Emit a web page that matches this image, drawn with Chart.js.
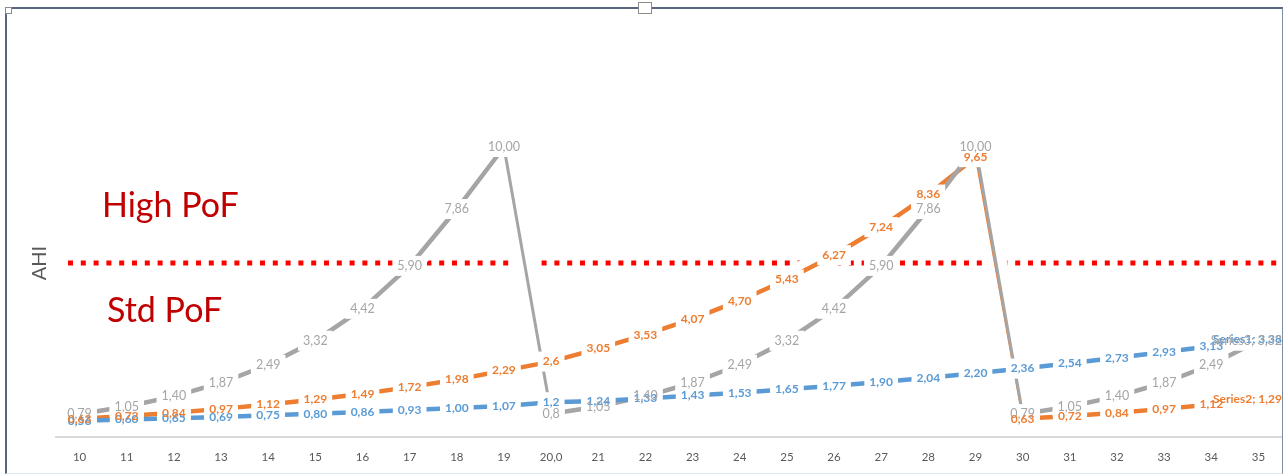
<!DOCTYPE html>
<html>
<head>
<meta charset="utf-8">
<title>AHI</title>
<script src="https://cdn.jsdelivr.net/npm/chart.js@4.4.1/dist/chart.umd.min.js"></script>
<style>
    body { margin: 0; background: #fff; }
    #wrap { position: relative; width: 1284px; height: 475px; overflow: hidden; }
    #frame { position: absolute; left: 5px; top: 7px; right: 1px; bottom: 1px;
             border-left: 2px solid #56677d; border-top: 2px solid #56677d;
             border-right: 1px solid #7d8ea3; border-bottom: 1px solid #dde6ec; pointer-events: none; }
    .handle { position: absolute; background: #fff; border: 1px solid #8c8c8c; pointer-events: none; }
</style>
</head>
<body>
<div id="wrap">
    <canvas id="ahiChart"></canvas>
    <div id="frame"></div>
    <div class="handle" style="left:5px;top:7px;width:5px;height:5px;"></div>
    <div class="handle" style="left:638px;top:2px;width:12px;height:10px;"></div>
</div>
<script>
const categories = ['10', '11', '12', '13', '14', '15', '16', '17', '18', '19', '20,0', '21', '22',
    '23', '24', '25', '26', '27', '28', '29', '30', '31', '32', '33', '34', '35'];
const seriesNames = ['Series1', 'Series2', 'Series3'];
const series1 = [0.56, 0.60, 0.65, 0.69, 0.75, 0.80, 0.86, 0.93, 1.00, 1.07, 1.2, 1.24, 1.33,
    1.43, 1.53, 1.65, 1.77, 1.90, 2.04, 2.20, 2.36, 2.54, 2.73, 2.93, 3.13, 3.38];
const series2 = [0.63, 0.72, 0.84, 0.97, 1.12, 1.29, 1.49, 1.72, 1.98, 2.29, 2.6, 3.05, 3.53,
    4.07, 4.70, 5.43, 6.27, 7.24, 8.36, 9.65, 0.63, 0.72, 0.84, 0.97, 1.12, 1.29];
const series3 = [0.79, 1.05, 1.40, 1.87, 2.49, 3.32, 4.42, 5.90, 7.86, 10.00, 0.8, 1.05, 1.40,
    1.87, 2.49, 3.32, 4.42, 5.90, 7.86, 10.00, 0.79, 1.05, 1.40, 1.87, 2.49, 3.32];
// number of decimals Excel shows per category (column 20 was typed with one)
const labelDecimals = [2, 2, 2, 2, 2, 2, 2, 2, 2, 2, 1, 2, 2, 2, 2, 2, 2, 2, 2, 2, 2, 2, 2, 2, 2, 2];
const threshold = [6];
const zoneLabels = ['High PoF', 'Std PoF'];
const axisTitle = 'AHI';

const FONT = 'Lato, "Open Sans", sans-serif';

// threshold dotted line, under the series
const thresholdLine = {
    id: 'thresholdLine',
    beforeDatasetsDraw(chart) {
        const {ctx, chartArea} = chart;
        const y = chart.scales.y.getPixelForValue(threshold[0]);
        ctx.save();
        ctx.strokeStyle = '#ff0000';
        ctx.lineWidth = 5;
        ctx.setLineDash([5, 7.8]);
        ctx.beginPath();
        ctx.moveTo(chartArea.left + 12, y);
        ctx.lineTo(chartArea.right + 2, y);
        ctx.stroke();
        ctx.restore();
    },
    afterDraw(chart) {
        const {ctx, chartArea} = chart;
        const y = chart.scales.y.getPixelForValue(threshold[0]);
        ctx.save();
        ctx.fillStyle = '#c00000';
        ctx.font = '34px ' + FONT;
        ctx.textBaseline = 'alphabetic';
        ctx.fillText(zoneLabels[0], chartArea.left + 46, y - 46);
        ctx.fillText(zoneLabels[1], chartArea.left + 51, y + 59);
        ctx.restore();
    }
};

// data labels with white boxes, like the Excel ones
const valueLabels = {
    id: 'valueLabels',
    afterDatasetsDraw(chart) {
        const {ctx, chartArea} = chart;
        const items = [];
        chart.data.datasets.forEach((ds, di) => {
            if (!ds.labelColor) return;
            const meta = chart.getDatasetMeta(di);
            meta.data.forEach((pt, i) => {
                let txt = ds.data[i].toFixed(labelDecimals[i]).replace('.', ',');
                if (i === ds.data.length - 1) txt = ds.label + '; ' + txt;
                ctx.font = ds.labelFont;
                const w = ctx.measureText(txt).width;
                let x = pt.x;
                if (x + w / 2 > chartArea.right) x = chartArea.right - w / 2;
                items.push({txt: txt, x: x, y: pt.y, w: w, font: ds.labelFont, color: ds.labelColor});
            });
        });
        ctx.save();
        ctx.fillStyle = '#fff';
        items.forEach(it => ctx.fillRect(it.x - it.w / 2 - 5, it.y - 10, it.w + 10, 20));
        ctx.textAlign = 'center';
        ctx.textBaseline = 'middle';
        items.forEach(it => {
            ctx.font = it.font;
            ctx.fillStyle = it.color;
            ctx.fillText(it.txt, it.x, it.y);
        });
        ctx.restore();
    }
};

function seriesLine(name, data, color, dropWidth, labelFont) {
    return {
        label: name,
        data: data,
        borderColor: color,
        borderWidth: 4.5,
        borderCapStyle: 'butt',
        pointRadius: 0,
        tension: 0,
        order: 1,
        labelColor: color,
        labelFont: labelFont,
        segment: {
            borderWidth: c => c.p1.parsed.y < c.p0.parsed.y - 3 ? dropWidth : undefined
        }
    };
}

function halo(data) {
    return {
        label: '',
        data: data,
        borderColor: '#ffffff',
        borderWidth: 22,
        pointRadius: 0,
        order: 5
    };
}

const ctx = document.getElementById('ahiChart').getContext('2d');
new Chart(ctx, {
    type: 'line',
    data: {
        labels: categories,
        datasets: [
            seriesLine(seriesNames[0], series1, '#5b9bd5', 3, 'bold 12px ' + FONT),
            seriesLine(seriesNames[2], series3, '#a5a5a5', 3, '12.5px ' + FONT),
            seriesLine(seriesNames[1], series2, '#ed7d31', 1.5, 'bold 12px ' + FONT),
            halo(series3),
            halo(series2)
        ]
    },
    options: {
        responsive: true,
        maintainAspectRatio: false,
        animation: false,
        layout: {padding: {left: 6, right: 2, top: 89, bottom: 0}},
        plugins: {
            legend: {display: false},
            tooltip: {enabled: false}
        },
        scales: {
            x: {
                offset: true,
                grid: {display: false, drawTicks: false},
                border: {display: true, color: '#d9d9d9', width: 2},
                ticks: {color: '#595959', font: {family: FONT, size: 11.5}, padding: 13, maxRotation: 0, autoSkip: false},
                afterFit(scale) { scale.height = 38; }
            },
            y: {
                min: 0,
                max: 12,
                grid: {display: false, drawTicks: false},
                border: {display: false},
                ticks: {display: false},
                title: {
                    display: true,
                    text: axisTitle,
                    color: '#595959',
                    font: {family: FONT, size: 20},
                    padding: {top: 22, bottom: 4}
                }
            }
        }
    },
    plugins: [thresholdLine, valueLabels]
});
</script>
</body>
</html>
